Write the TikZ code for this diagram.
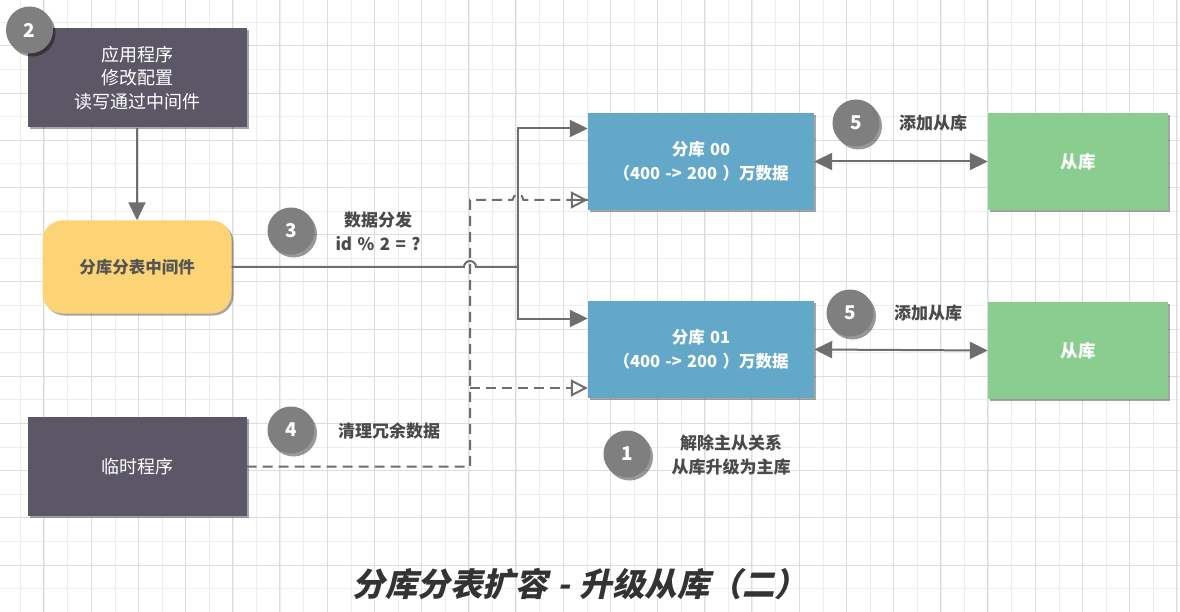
\documentclass[tikz,border=0pt]{standalone}
\usepackage{fontspec}
\setmainfont{Noto Sans CJK SC}
\newfontfamily\titlefont{Noto Sans CJK SC}[FakeSlant=0.22]
\usetikzlibrary{arrows.meta,shadows}
\definecolor{darkbox}{HTML}{5C5767}
\definecolor{bluebox}{HTML}{64A8C9}
\definecolor{greenbox}{HTML}{8ACE8F}
\definecolor{yellowbox}{HTML}{FDD475}
\definecolor{circ}{HTML}{7F7F7F}
\definecolor{conn}{HTML}{6E6E6E}
\definecolor{lbl}{HTML}{4A4A4A}
\definecolor{ytext}{HTML}{555555}
\definecolor{gridlight}{HTML}{EEEEEE}
\definecolor{griddark}{HTML}{DDDDDD}
\definecolor{titlec}{HTML}{333333}
\newcommand{\wsp}{\hspace{0.32em}}
\tikzset{
  boxshadow/.style={drop shadow={shadow xshift=2pt,shadow yshift=-2pt,opacity=0.35,fill=black}},
  darkrect/.style={fill=darkbox,boxshadow,minimum width=219pt,minimum height=99pt,inner sep=0pt,
    text=white,align=center,font=\fontsize{18pt}{23.5pt}\selectfont},
  bluerect/.style={fill=bluebox,boxshadow,minimum width=226pt,minimum height=97pt,inner sep=0pt,
    text=white,align=center,font=\bfseries\fontsize{16.5pt}{24pt}\selectfont},
  greenrect/.style={fill=greenbox,boxshadow,minimum width=180pt,minimum height=97pt,inner sep=0pt,
    text=white,align=center,font=\bfseries\fontsize{17.5pt}{24pt}\selectfont},
  yellowrect/.style={fill=yellowbox,boxshadow,rounded corners=20pt,minimum width=189pt,minimum height=93pt,
    inner sep=0pt,text=ytext,align=center,font=\bfseries\fontsize{16.5pt}{24pt}\selectfont},
  numcirc/.style={circle,fill=circ,minimum size=47pt,inner sep=0pt,text=white,
    font=\bfseries\fontsize{19pt}{22pt}\selectfont,
    drop shadow={shadow xshift=2.5pt,shadow yshift=-3pt,opacity=0.4,fill=black}},
  lbltext/.style={text=lbl,align=center,inner sep=0pt,font=\bfseries\fontsize{17pt}{24pt}\selectfont},
  connline/.style={draw=conn,line width=2pt},
  dashline/.style={draw=conn,line width=2pt,dash pattern=on 10pt off 6pt},
  solidtip/.style={-{Triangle[length=18pt,width=17pt]}},
  opentip/.style={-{Triangle[open,length=17pt,width=17pt,line width=2pt]}},
  bothtip/.style={{Triangle[length=18pt,width=17pt]}-{Triangle[length=18pt,width=17pt]}},
}
\begin{document}
\begin{tikzpicture}[x=1pt,y=-1pt]
\useasboundingbox (0,0) rectangle (1180,612);
\fill[white] (0,0) rectangle (1180,612);
% grid
\foreach \i in {0,...,49} { \draw[gridlight,line width=1pt] ({20.7+23.6*\i},0) -- ++(0,612); }
\foreach \j in {0,...,25} { \draw[gridlight,line width=1pt] (0,{22.3+23.6*\j}) -- ++(1180,0); }
\foreach \i in {0,...,24} { \draw[griddark,line width=1pt] ({43.9+47.2*\i},0) -- ++(0,612); }
\foreach \j in {0,...,12} { \draw[griddark,line width=1pt] (0,{45.9+47.2*\j}) -- ++(1180,0); }

% boxes
\node[darkrect] (app) at (137,78) {应用程序\\修改配置\\读写通过中间件};
\node[yellowrect] (mw) at (137,267) {分库分表中间件};
\node[darkrect] (tmp) at (137,466.5) {临时程序};
\node[bluerect] (b00) at (701,161.5) {分库\wsp 00\\（400\wsp->\wsp 200\wsp ）万数据};
\node[bluerect] (b01) at (701,349.5) {分库\wsp 01\\（400\wsp->\wsp 200\wsp ）万数据};
\node[greenrect] (g00) at (1078,161.5) {从库};
\node[greenrect] (g01) at (1078,350.5) {从库};

% connectors
\draw[connline,solidtip] (app.south) -- (mw.north);
\coordinate (j) at (518,267);
\coordinate (hopA) at (464,267);
\draw[connline] (mw.east) -- (hopA) arc[start angle=180,end angle=360,radius=6] -- (j);
\draw[connline,solidtip] (j) |- ([yshift=33pt]b00.west);
\draw[connline,solidtip] (j) |- ([yshift=31pt]b01.west);

\coordinate (dtop) at (470,200);
\coordinate (dv) at (470,388);
\coordinate (hopB) at (512.5,200);
\draw[dashline] (tmp.east) -| (dtop) -- (hopB) arc[start angle=180,end angle=360,radius=5.5] -- ([yshift=-38.5pt]b00.west);
\draw[conn,line width=2pt,opentip] ([xshift=-2pt,yshift=-38.5pt]b00.west) -- ([yshift=-38.5pt]b00.west);
\draw[dashline,opentip] (dv) -- ([yshift=-38.5pt]b01.west);

\draw[connline,bothtip] (b00.east) -- (g00.west);
\draw[connline,bothtip] (b01.east) -- (g01.west);

% numbered circles
\node[numcirc] (c2) at (29.5,30) {2};
\node[numcirc] (c3) at (291,231) {3};
\node[numcirc] (c4) at (291,430) {4};
\node[numcirc] (c1) at (627,454) {1};
\node[numcirc] (c5a) at (856,123) {5};
\node[numcirc] (c5b) at (850,313) {5};

% labels
\node[lbltext] (l3) at (378,231) {数据分发\\id\wsp\%\wsp 2\wsp =\wsp ?};
\node[lbltext] (l4) at (389,431) {清理冗余数据};
\node[lbltext] (l1) at (731,455) {解除主从关系\\从库升级为主库};
\node[lbltext] (l5a) at (933,123) {添加从库};
\node[lbltext] (l5b) at (928,313) {添加从库};

% title
\node[text=titlec,inner sep=0pt,font=\titlefont\bfseries\fontsize{32.5pt}{36pt}\selectfont] (title) at (580,584) {分库分表扩容\hspace{0.3em}-\hspace{0.3em}升级从库（二）};
\end{tikzpicture}
\end{document}
